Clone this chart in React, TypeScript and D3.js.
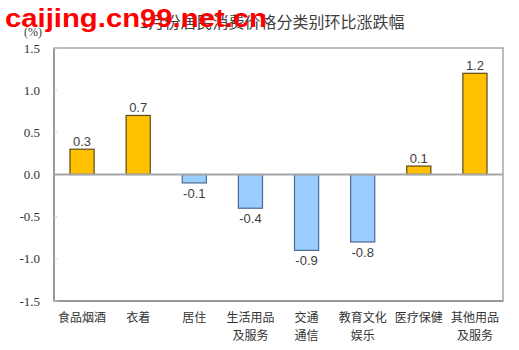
import React from "react";
import * as d3 from "d3";

const categories = [
  ["食品烟酒"],
  ["衣着"],
  ["居住"],
  ["生活用品", "及服务"],
  ["交通", "通信"],
  ["教育文化", "娱乐"],
  ["医疗保健"],
  ["其他用品", "及服务"],
];
const values = [0.3, 0.7, -0.1, -0.4, -0.9, -0.8, 0.1, 1.2];
const yTicks = [1.5, 1.0, 0.5, 0.0, -0.5, -1.0, -1.5];
const title = "1月份居民消费价格分类别环比涨跌幅";
const watermark = "caijing.cn99.net.cn";

const W = 519;
const H = 350;
const left = 54;
const right = 503;
const top = 48;
const bottom = 301;

export default function App() {
  const x = d3
    .scaleBand<number>()
    .domain(d3.range(values.length))
    .range([left, right])
    .paddingInner(0.57)
    .paddingOuter(0.285);
  const y = d3.scaleLinear().domain([-1.5, 1.5]).range([bottom, top]);
  const cjk = "'Noto Sans CJK SC', 'Noto Sans', sans-serif";
  return (
    <svg width={W} height={H} style={{ position: "absolute", left: 0, top: 0, background: "#fff" }}>
      <rect x={0} y={0} width={W} height={H} fill="#fff" />
      <text x={272} y={28} textAnchor="middle" fontFamily={cjk} fontSize={16} fill="#404040">
        {title}
      </text>
      <text
        x={5}
        y={27}
        fontFamily="'Liberation Sans', Arial, sans-serif"
        fontWeight="bold"
        fontSize={26}
        fill="#ff0000"
        textLength={262}
        lengthAdjust="spacingAndGlyphs"
      >
        {watermark}
      </text>
      <text x={42} y={36} textAnchor="end" fontFamily="'Liberation Serif', 'DejaVu Serif', serif" fontSize={12} fill="#404040">
        (%)
      </text>
      {/* frame */}
      <rect x={left} y={top} width={right - left} height={bottom - top} fill="none" stroke="#a6a6a6" strokeWidth={1.5} />
      <line x1={left} x2={left} y1={top} y2={bottom} stroke="#999" strokeWidth={2} />
      <line x1={left} x2={right} y1={bottom} y2={bottom} stroke="#999" strokeWidth={2} />
      {yTicks.map((t) => (
        <g key={t}>
          <line x1={left} x2={left + 3} y1={y(t)} y2={y(t)} stroke="#ccc" strokeWidth={1} />
          <text
            x={40}
            y={y(t) + 4.5}
            textAnchor="end"
            fontFamily="'Liberation Serif', 'DejaVu Serif', serif"
            fontSize={13}
            fill="#333"
          >
            {t.toFixed(1)}
          </text>
        </g>
      ))}
      {values.map((v, i) => {
        const x0 = x(i)!;
        const y0 = y(Math.max(0, v));
        const h = Math.abs(y(v) - y(0));
        const pos = v >= 0;
        return (
          <g key={i}>
            <rect
              x={x0}
              y={y0}
              width={x.bandwidth()}
              height={h}
              fill={pos ? "#FFC000" : "#99CCFF"}
              stroke={pos ? "#5a4a1a" : "#4f6a8f"}
              strokeWidth={1.2}
            />
            <text
              x={x0 + x.bandwidth() / 2}
              y={pos ? y(v) - 3 : y(v) + 15}
              textAnchor="middle"
              fontFamily="'Liberation Sans', Arial, sans-serif"
              fontSize={13}
              fill="#404040"
            >
              {v.toFixed(1)}
            </text>
          </g>
        );
      })}
      <line x1={left} x2={right} y1={y(0)} y2={y(0)} stroke="#a6a6a6" strokeWidth={2} />
      {categories.map((lines, i) => (
        <text
          key={i}
          x={x(i)! + x.bandwidth() / 2}
          textAnchor="middle"
          fontFamily={cjk}
          fontSize={12}
          fill="#333"
        >
          {lines.map((l, j) => (
            <tspan key={j} x={x(i)! + x.bandwidth() / 2} y={322 + j * 18}>
              {l}
            </tspan>
          ))}
        </text>
      ))}
    </svg>
  );
}
